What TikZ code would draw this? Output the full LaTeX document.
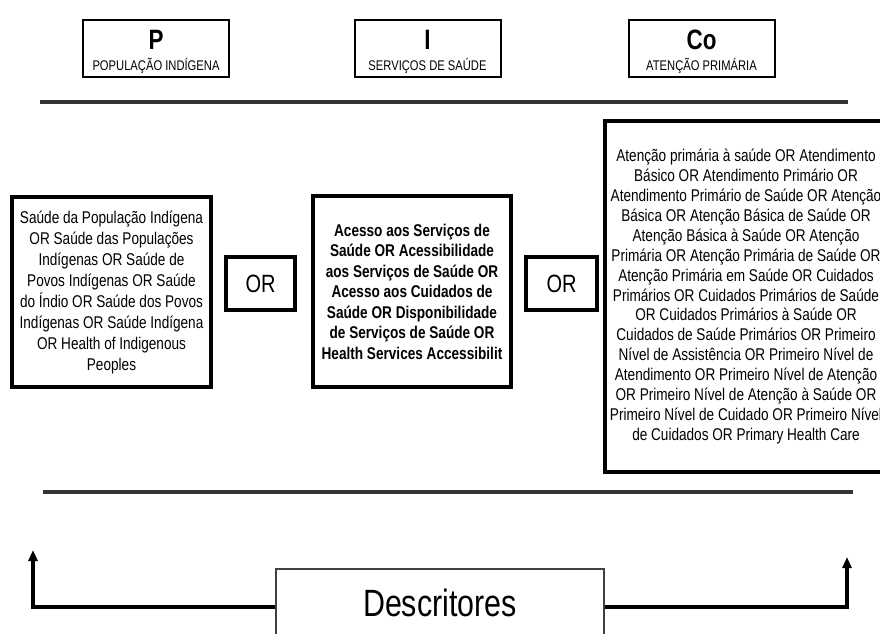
\documentclass[tikz,border=0pt]{standalone}
\usepackage{fontspec}
\setmainfont{Liberation Sans}[FakeStretch=0.8]
\usetikzlibrary{arrows.meta}

\begin{document}
\begin{tikzpicture}[x=1pt,y=-1pt,
	topbox/.style={draw,line width=2pt,minimum width=146pt,minimum height=57pt,inner sep=0pt},
	headletter/.style={font=\bfseries\fontsize{28}{28}\selectfont},
	headlabel/.style={font=\fontsize{14}{14}\selectfont},
	termbox/.style={draw,line width=3.2pt,inner sep=0pt,align=center,font=\fontsize{17}{21}\selectfont},
	orbox/.style={draw,line width=3.2pt,minimum width=69pt,minimum height=53pt,inner sep=0pt,font=\fontsize{25}{25}\selectfont},
	sepline/.style={line width=3.2pt,draw=black!80},
	arr/.style={line width=3.4pt,-{Triangle[length=11pt,width=9pt]}}]
	\useasboundingbox (0,0) rectangle (880,633);
	\clip (0,0) rectangle (880,633);
	% P I Co
	\node[topbox] (pbox) at (156,48.5) {};
	\node[headletter] (pletter) at (156,40) {P};
	\node[headlabel] (plabel) at (156,66) {POPULAÇÃO INDÍGENA};
	\node[topbox] (ibox) at (427.5,48.5) {};
	\node[headletter] (iletter) at (427.5,40) {I};
	\node[headlabel] (ilabel) at (427.5,66) {SERVIÇOS DE SAÚDE};
	\node[topbox] (cobox) at (701.5,48.5) {};
	\node[headletter] (coletter) at (701.5,40) {Co};
	\node[headlabel] (colabel) at (701.5,66) {ATENÇÃO PRIMÁRIA};
	\coordinate (topl) at (40,102);
	\coordinate (topr) at (848,102);
	\draw[sepline] (topl) -- (topr);
	% search terms
	\node[termbox,minimum width=199pt,minimum height=190pt] (pterms) at (111.5,292) {Saúde da População Indígena\\OR Saúde das Populações\\Indígenas OR Saúde de\\Povos Indígenas OR Saúde\\do Índio OR Saúde dos Povos\\Indígenas OR Saúde Indígena\\OR Health of Indigenous\\Peoples};
	\node[orbox] (or1) at (260.5,283.5) {OR};
	\node[termbox,minimum width=198pt,minimum height=191pt,font=\bfseries\fontsize{17}{20.5}\selectfont] (iterms) at (412,291.5) {Acesso aos Serviços de\\Saúde OR Acessibilidade\\aos Serviços de Saúde OR\\Acesso aos Cuidados de\\Saúde OR Disponibilidade\\de Serviços de Saúde OR\\Health Services Accessibilit};
	\node[orbox,minimum width=71pt] (or2) at (561.5,283.5) {OR};
	\node[termbox,minimum width=282pt,minimum height=351pt,font=\fontsize{17}{19.9}\selectfont] (coterms) at (746,296.5) {Atenção primária à saúde OR Atendimento\\Básico OR Atendimento Primário OR\\Atendimento Primário de Saúde OR Atenção\\Básica OR Atenção Básica de Saúde OR\\Atenção Básica à Saúde OR Atenção\\Primária OR Atenção Primária de Saúde OR\\Atenção Primária em Saúde OR Cuidados\\Primários OR Cuidados Primários de Saúde\\OR Cuidados Primários à Saúde OR\\Cuidados de Saúde Primários OR Primeiro\\Nível de Assistência OR Primeiro Nível de\\Atendimento OR Primeiro Nível de Atenção\\OR Primeiro Nível de Atenção à Saúde OR\\Primeiro Nível de Cuidado OR Primeiro Nível\\de Cuidados OR Primary Health Care};
	\coordinate (botl) at (43,492);
	\coordinate (botr) at (853,492);
	\draw[sepline] (botl) -- (botr);
	% Descritores
	\node[draw=black!75,line width=1.6pt,minimum width=328pt,minimum height=76pt,inner sep=0pt] (desc) at (440,607) {};
	\node[font=\fontsize{38}{38}\selectfont] (desclabel) at (440,603) {Descritores};
	\coordinate (ltip) at (33,550);
	\coordinate (rtip) at (847,557);
	\draw[arr] (desc.west) -| (ltip);
	\draw[arr] (desc.east) -| (rtip);
\end{tikzpicture}
\end{document}
